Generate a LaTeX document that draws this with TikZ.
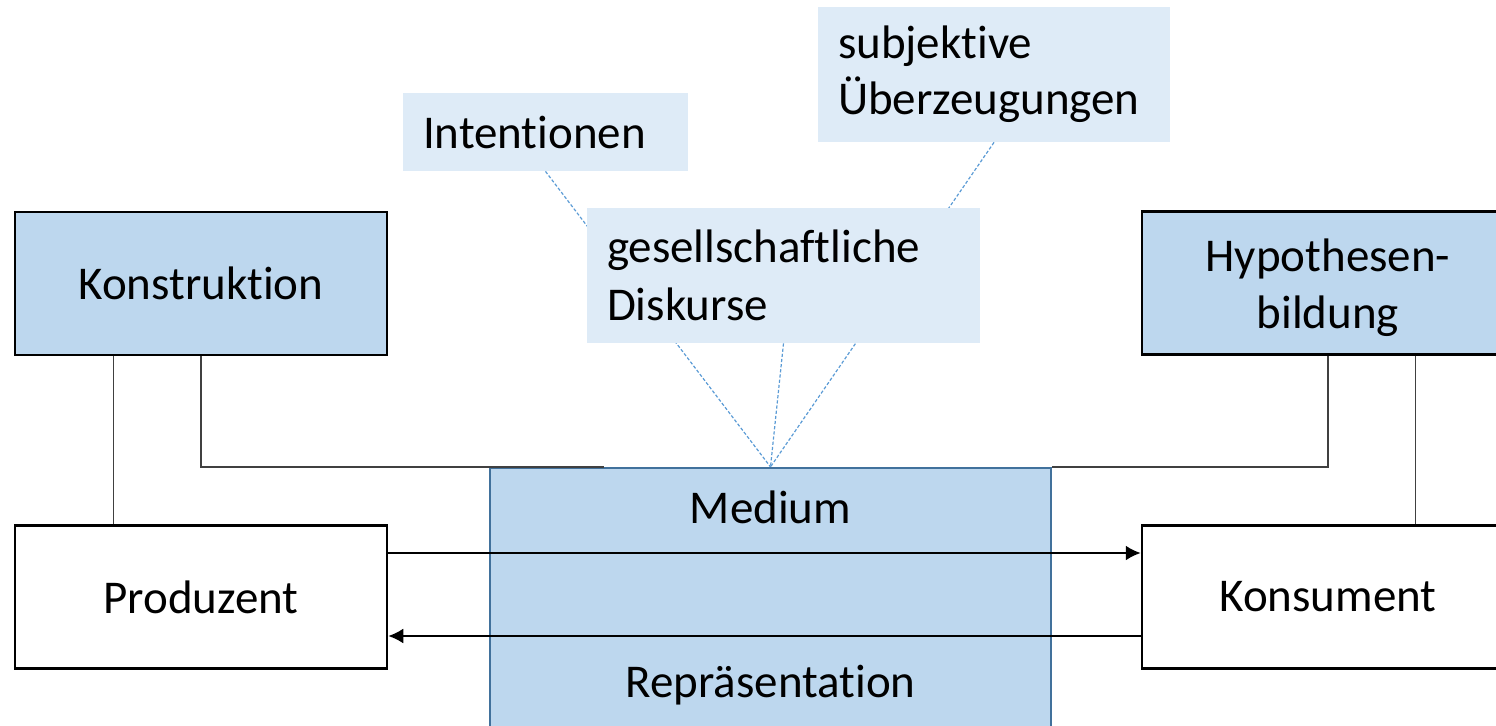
\documentclass[tikz,border=0pt]{standalone}
\usepackage{fontspec}
\setmainfont{Carlito}[Ligatures={NoCommon}]
\usepackage{tikz}
\usetikzlibrary{arrows.meta}
\usetikzlibrary{backgrounds}

\definecolor{boxblue}{HTML}{BDD7EE}
\definecolor{paleblue}{HTML}{DEEBF7}
\definecolor{medborder}{HTML}{41719C}
\definecolor{dashblue}{HTML}{5B9BD5}

\begin{document}
\begin{tikzpicture}[x=0.5pt,y=-0.5pt,
        every node/.style={font=\fontsize{23.5}{28}\selectfont, inner sep=0pt},
        mainbox/.style={draw=black, line width=1.25pt, minimum width=186pt, minimum height=71.5pt, align=center},
        medbox/.style={draw=medborder, fill=boxblue, line width=1.1pt, minimum width=280.5pt, minimum height=146pt},
        notebox/.style={fill=paleblue, inner xsep=10pt, text width=#1, align=left},
        link/.style={draw=black!75, line width=0.7pt},
        hint/.style={draw=dashblue, line width=0.6pt, dash pattern=on 1.6pt off 1pt},
        flow/.style={draw=black, line width=1.1pt, -{Latex[length=7.5pt,width=7.5pt]}}]
        \useasboundingbox (0,0) rectangle (1496,725); % page size
        % main boxes
        \node[mainbox, fill=boxblue] (kon) at (201,283.5) {Konstruktion};
        \node[mainbox, text depth=0pt] (pro) at (201,597) {Produzent};
        \node[mainbox, fill=boxblue, font=\fontsize{23.5}{28.5}\selectfont] (hyp) at (1328,283) {\rule{0pt}{21pt}Hypothesen-\\bildung};
        \node[mainbox] (kons) at (1328,597) {Konsument};
        \node[medbox] (med) at (770.5,614) {};
        \node[anchor=base] (medtop) at (770.5,523) {Medium};
        \node[anchor=base] (medbot) at (770.5,697) {Repräsentation};
        % notes above the medium
        \node[notebox=122.5pt, minimum height=39pt] (int) at (545.5,132) {Intentionen};
        \node[notebox=176.5pt, minimum height=67.5pt, font=\fontsize{23.5}{29}\selectfont] (ges) at (783.5,275.5) {gesellschaftliche\\Diskurse};
        \node[notebox=156pt, minimum height=67.5pt] (subj) at (994,74.5) {subjektive\\Überzeugungen};
        \begin{pgfonlayer}{background}
            \draw[hint] (int.south) -- (med.north);
            \draw[hint] (ges.south) -- (med.north);
            \draw[hint] (subj.south) -- (med.north);
        \end{pgfonlayer}
        % links
        \coordinate (kend) at (604,467);
        \draw[link] ([xshift=50pt]kon.south west) -- ([xshift=50pt]pro.north west);
        \draw[link] (kon.south) |- (kend);
        \draw[link] (hyp.south) |- (med.north east);
        \draw[link] ([xshift=-50pt]hyp.south east) -- ([xshift=-50pt]kons.north east);
        % messages
        \draw[flow] ([yshift=22pt]pro.east) -- ([yshift=22pt]kons.west);
        \draw[flow] ([yshift=-19.5pt]kons.west) -- ([yshift=-19.5pt]pro.east);
\end{tikzpicture}
\end{document}
